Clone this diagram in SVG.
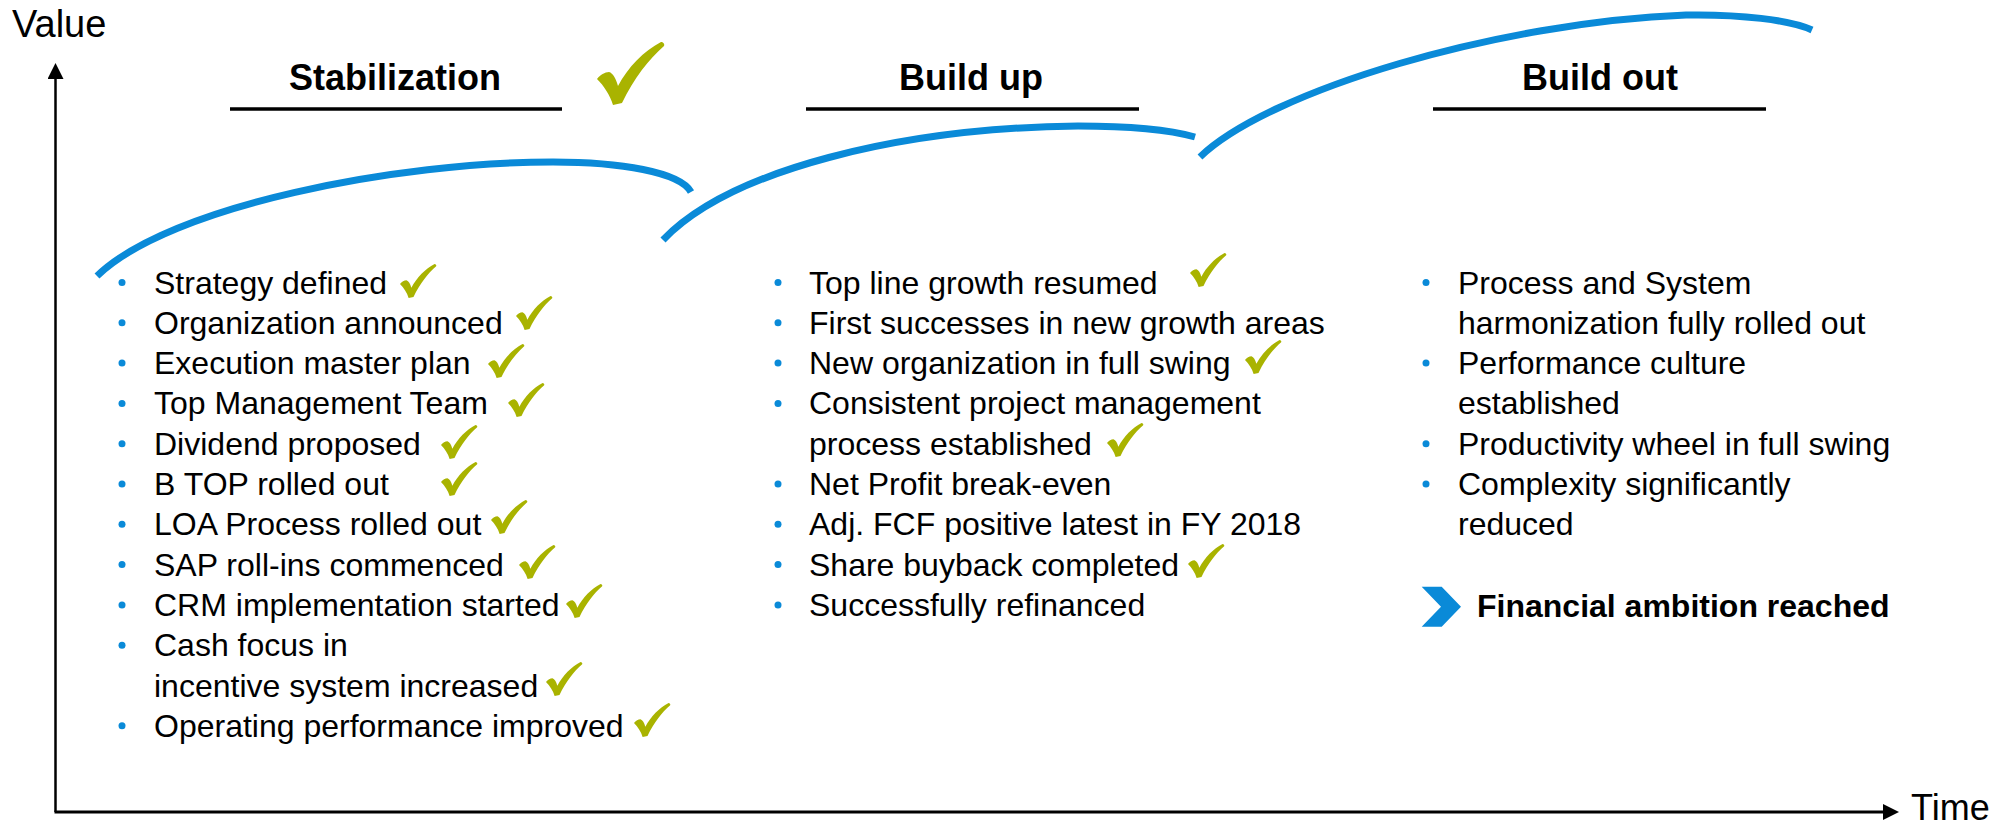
<svg xmlns="http://www.w3.org/2000/svg" xmlns:xlink="http://www.w3.org/1999/xlink" width="2012" height="828" viewBox="0 0 2012 828">
<style>
.t{font-family:"Liberation Sans",Arial,sans-serif;font-size:32px;fill:#000}
.h{font-family:"Liberation Sans",Arial,sans-serif;font-size:36px;font-weight:bold;fill:#000;text-anchor:middle}
.ax{font-family:"Liberation Sans",Arial,sans-serif;font-size:36px;fill:#000}
.b{fill:#0A8AD8}
.ul{stroke:#000;stroke-width:3.5}
.arc{fill:none;stroke:#0A8AD8;stroke-width:7}
.ck{fill:#A9B300}
</style>
<defs>
<path id="chk" d="M0,37 C3,33 8,30 12,30 C16,31 19,37 21,44 C31,25 47,9 64,0 C66,0 68,2 67,4 C52,17 37,36 25,61 L16,63 C13,53 7,44 0,37 Z"/>
<marker id="ah" markerWidth="16" markerHeight="16" refX="0" refY="8" orient="auto" markerUnits="userSpaceOnUse">
<path d="M0,0 L16,8 L0,16 Z" fill="#000"/>
</marker>
</defs>
<rect width="2012" height="828" fill="#fff"/>

<g id="axes">
<line x1="55.5" y1="812" x2="55.5" y2="79" stroke="#000" stroke-width="2.5" marker-end="url(#ah)"/>
<line x1="54.5" y1="812" x2="1883" y2="812" stroke="#000" stroke-width="3" marker-end="url(#ah)"/>
<text class="ax" x="12" y="37" style="font-size:38px">Value</text>
<text class="ax" x="1911" y="820">Time</text>
</g>

<g id="connectors">
<path class="arc" d="M97,276 C170,205 400,162 553,162 C620,162 680,172 691,192"/>
<path class="arc" d="M663,240 C730,170 900,128 1078,126 C1130,126 1170,130 1195,137"/>
<path class="arc" d="M1200,157 C1270,90 1500,22 1686,15 C1740,14 1790,20 1812,30"/>
</g>

<g id="stabilization">
<text class="h" x="395" y="90">Stabilization</text>
<line class="ul" x1="230" y1="109" x2="562" y2="109"/>
<use xlink:href="#chk" class="ck" transform="translate(597,42)"/>
<g id="stab-list">
<circle class="b" cx="122" cy="282.5" r="3.5"/><text class="t" x="154" y="293.5">Strategy defined</text>
<circle class="b" cx="122" cy="322.8" r="3.5"/><text class="t" x="154" y="333.8">Organization announced</text>
<circle class="b" cx="122" cy="363.1" r="3.5"/><text class="t" x="154" y="374.1">Execution master plan</text>
<circle class="b" cx="122" cy="403.4" r="3.5"/><text class="t" x="154" y="414.4">Top Management Team</text>
<circle class="b" cx="122" cy="443.7" r="3.5"/><text class="t" x="154" y="454.7">Dividend proposed</text>
<circle class="b" cx="122" cy="484" r="3.5"/><text class="t" x="154" y="495">B TOP rolled out</text>
<circle class="b" cx="122" cy="524.3" r="3.5"/><text class="t" x="154" y="535.3">LOA Process rolled out</text>
<circle class="b" cx="122" cy="564.6" r="3.5"/><text class="t" x="154" y="575.6">SAP roll-ins commenced</text>
<circle class="b" cx="122" cy="604.9" r="3.5"/><text class="t" x="154" y="615.9">CRM implementation started</text>
<circle class="b" cx="122" cy="645.2" r="3.5"/><text class="t" x="154" y="656.2">Cash focus in</text>
<text class="t" x="154" y="696.5">incentive system increased</text>
<circle class="b" cx="122" cy="725.8" r="3.5"/><text class="t" x="154" y="736.8">Operating performance improved</text>
</g>
<g class="ck">
<use xlink:href="#chk" transform="translate(400,264) scale(0.54)"/>
<use xlink:href="#chk" transform="translate(516,296) scale(0.54)"/>
<use xlink:href="#chk" transform="translate(488,344) scale(0.54)"/>
<use xlink:href="#chk" transform="translate(508,383) scale(0.54)"/>
<use xlink:href="#chk" transform="translate(441,425) scale(0.54)"/>
<use xlink:href="#chk" transform="translate(441,462) scale(0.54)"/>
<use xlink:href="#chk" transform="translate(491,500) scale(0.54)"/>
<use xlink:href="#chk" transform="translate(519,545) scale(0.54)"/>
<use xlink:href="#chk" transform="translate(566,584) scale(0.54)"/>
<use xlink:href="#chk" transform="translate(546,662) scale(0.54)"/>
<use xlink:href="#chk" transform="translate(634,703) scale(0.54)"/>
</g>
</g>

<g id="build-up">
<text class="h" x="971" y="90">Build up</text>
<line class="ul" x1="806" y1="109" x2="1139" y2="109"/>
<g id="buildup-list">
<circle class="b" cx="778" cy="282.5" r="3.5"/><text class="t" x="809" y="293.5">Top line growth resumed</text>
<circle class="b" cx="778" cy="322.8" r="3.5"/><text class="t" x="809" y="333.8">First successes in new growth areas</text>
<circle class="b" cx="778" cy="363.1" r="3.5"/><text class="t" x="809" y="374.1">New organization in full swing</text>
<circle class="b" cx="778" cy="403.4" r="3.5"/><text class="t" x="809" y="414.4">Consistent project management</text>
<text class="t" x="809" y="454.7">process established</text>
<circle class="b" cx="778" cy="484" r="3.5"/><text class="t" x="809" y="495">Net Profit break-even</text>
<circle class="b" cx="778" cy="524.3" r="3.5"/><text class="t" x="809" y="535.3">Adj. FCF positive latest in FY 2018</text>
<circle class="b" cx="778" cy="564.6" r="3.5"/><text class="t" x="809" y="575.6">Share buyback completed</text>
<circle class="b" cx="778" cy="604.9" r="3.5"/><text class="t" x="809" y="615.9">Successfully refinanced</text>
</g>
<g class="ck">
<use xlink:href="#chk" transform="translate(1190,253) scale(0.54)"/>
<use xlink:href="#chk" transform="translate(1245,340) scale(0.54)"/>
<use xlink:href="#chk" transform="translate(1107,423) scale(0.54)"/>
<use xlink:href="#chk" transform="translate(1188,544) scale(0.54)"/>
</g>
</g>

<g id="build-out">
<text class="h" x="1600" y="90">Build out</text>
<line class="ul" x1="1433" y1="109" x2="1766" y2="109"/>
<g id="buildout-list">
<circle class="b" cx="1426" cy="282.5" r="3.5"/><text class="t" x="1458" y="293.5">Process and System</text>
<text class="t" x="1458" y="333.8">harmonization fully rolled out</text>
<circle class="b" cx="1426" cy="363.1" r="3.5"/><text class="t" x="1458" y="374.1">Performance culture</text>
<text class="t" x="1458" y="414.4">established</text>
<circle class="b" cx="1426" cy="443.7" r="3.5"/><text class="t" x="1458" y="454.7">Productivity wheel in full swing</text>
<circle class="b" cx="1426" cy="484" r="3.5"/><text class="t" x="1458" y="495">Complexity significantly</text>
<text class="t" x="1458" y="535.3">reduced</text>
</g>
<g id="ambition">
<path class="b" d="M1421.7,586.7 L1441.7,586.7 L1461,606.7 L1441.7,626.7 L1421.7,626.7 L1441,606.7 Z"/>
<text class="t" x="1477" y="617" style="font-weight:bold">Financial ambition reached</text>
</g>
</g>
</svg>
